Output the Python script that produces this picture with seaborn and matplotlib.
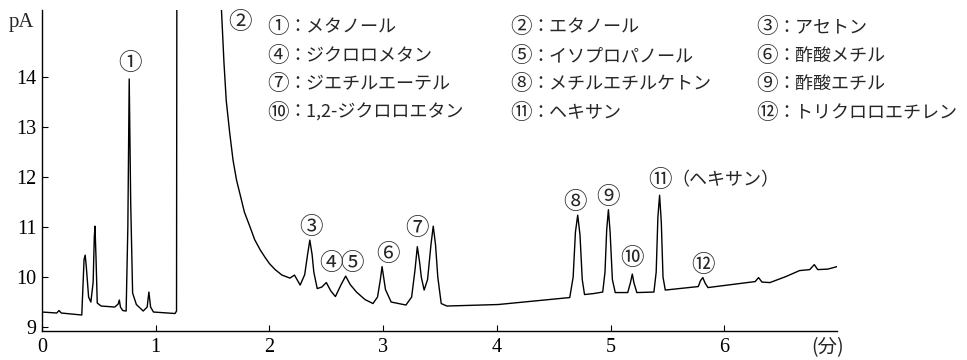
import matplotlib
matplotlib.use("Agg")
import matplotlib.pyplot as plt
import seaborn as sns
from matplotlib.ticker import MultipleLocator

# chromatogram trace (minutes, pA)
time_min = [
    0.00, 0.13, 0.15, 0.17, 0.35, 0.36, 0.37, 0.38, 0.39, 0.41, 0.43, 0.45,
    0.46, 0.466, 0.475, 0.486, 0.52, 0.64, 0.67, 0.68, 0.69, 0.71, 0.74,
    0.755, 0.767, 0.78, 0.797, 0.83, 0.89, 0.925, 0.94, 0.955, 0.98, 1.17,
    1.183, 1.19, 1.50, 1.575, 1.60, 1.62, 1.65, 1.68, 1.71, 1.74, 1.78, 1.83,
    1.87, 1.92, 1.96, 2.00, 2.05, 2.11, 2.18,
    2.22, 2.27, 2.31, 2.335, 2.355, 2.375, 2.39, 2.42, 2.46, 2.50, 2.54, 2.58,
    2.63, 2.67, 2.71, 2.765, 2.84, 2.91, 2.95, 2.975, 2.99, 3.005, 3.02, 3.07,
    3.20, 3.25, 3.28, 3.30, 3.32, 3.335, 3.36, 3.39, 3.42, 3.44, 3.46, 3.48,
    3.51, 3.56, 4.01, 4.64, 4.67, 4.69, 4.71, 4.73, 4.75, 4.77, 4.85, 4.93,
    4.95, 4.965, 4.98, 4.995, 5.015, 5.04, 5.15, 5.175, 5.19, 5.205, 5.23,
    5.38, 5.40, 5.415, 5.43, 5.445, 5.46, 5.48, 5.77, 5.79, 5.81, 5.83, 5.855,
    6.27, 6.30, 6.33, 6.40, 6.54, 6.66, 6.75, 6.79, 6.82, 6.91, 6.99,
]
signal_pa = [
    9.30, 9.28, 9.33, 9.28, 9.24, 9.80, 10.35, 10.44, 10.20, 9.60, 9.50, 9.90,
    10.80, 11.02, 10.40, 9.48, 9.42, 9.40, 9.46, 9.54, 9.40, 9.33, 9.32,
    11.0, 13.97, 11.5, 9.68, 9.45, 9.32, 9.40, 9.70, 9.40, 9.30, 9.27,
    9.32, 25.0, 25.0, 15.5, 14.3, 13.54, 12.9, 12.34, 11.95, 11.67, 11.3, 11.00,
    10.75, 10.54, 10.4, 10.27, 10.15, 10.04, 9.98,
    10.04, 9.84, 10.05, 10.45, 10.74, 10.45, 10.10, 9.77, 9.80, 9.89, 9.72, 9.61,
    9.85, 10.02, 9.85, 9.70, 9.55, 9.47, 9.60, 9.95, 10.21, 9.98, 9.75, 9.50,
    9.44, 9.60, 10.15, 10.61, 10.30, 10.00, 9.74, 9.95, 10.65, 11.02, 10.65, 10.00,
    9.47, 9.42, 9.45, 9.59, 10.00, 10.90, 11.24, 10.85, 9.95, 9.65, 9.67, 9.70,
    10.10, 10.95, 11.35, 10.90, 9.95, 9.69, 9.69, 9.90, 10.06, 9.88, 9.69,
    9.70, 10.10, 11.20, 11.64, 11.10, 10.00, 9.74, 9.81, 9.93, 9.99, 9.88, 9.79,
    9.91, 9.99, 9.90, 9.89, 10.01, 10.13, 10.15, 10.25, 10.15, 10.16, 10.21,
]

# peak labels
peak_marks = ["①", "②", "③", "④", "⑤", "⑥", "⑦", "⑧", "⑨", "⑩", "⑪", "⑫"]
peak_t = [0.773, 1.74, 2.364, 2.54, 2.73, 3.04, 3.30, 4.69, 4.98, 5.19, 5.43, 5.81]
peak_v = [14.28, 15.1, 11.0, 10.28, 10.28, 10.46, 10.98, 11.5, 11.6, 10.38, 11.94, 10.24]

compounds = [
    "メタノール", "エタノール", "アセトン",
    "ジクロロメタン", "イソプロパノール", "酢酸メチル",
    "ジエチルエーテル", "メチルエチルケトン", "酢酸エチル",
    "1,2-ジクロロエタン", "ヘキサン", "トリクロロエチレン",
]

sns.set_style("white")
plt.rcParams["font.family"] = ["Liberation Serif", "Noto Sans CJK JP"]

fig = plt.figure(figsize=(9.67, 3.6), dpi=100)
ax = fig.add_axes([0.0434, 0.0806, 0.8222, 0.8914])

sns.lineplot(x=time_min, y=signal_pa, ax=ax, color="black", linewidth=1.0,
             sort=False, estimator=None)

ax.set_xlim(0, 6.99)
ax.set_ylim(8.92, 15.35)
ax.xaxis.set_major_locator(MultipleLocator(1))
ax.xaxis.set_minor_locator(MultipleLocator(0.2))
ax.yaxis.set_minor_locator(MultipleLocator(0.5))
ax.set_yticks([9, 10, 11, 12, 13, 14])
ax.tick_params(which="major", direction="in", length=4, width=0.8,
               labelsize=14.5, colors="black", pad=4)
ax.tick_params(which="minor", direction="in", length=2, width=0.6)
ax.tick_params(axis="x", bottom=True, pad=5)
ax.tick_params(axis="y", left=True)
for side in ["top", "right"]:
    ax.spines[side].set_visible(False)
for side in ["left", "bottom"]:
    ax.spines[side].set_color("black")
    ax.spines[side].set_linewidth(1.0)

fig.text(9 / 967, 1 - 22 / 360, "pA", fontsize=15, va="center", ha="left")
fig.text(828 / 967, 1 - 348 / 360, "(分)", fontsize=14, va="center", ha="center",
         family=["Noto Sans CJK JP"])

for mark, t, v in zip(peak_marks, peak_t, peak_v):
    ax.text(t, v, mark, fontsize=17, ha="center", va="center",
            family=["Noto Sans CJK JP"])
ax.text(5.53, 11.94, "（ヘキサン）", fontsize=13, ha="left", va="center",
        family=["Noto Sans CJK JP"])

# compound legend, 3 columns x 4 rows (circle centre, then colon + name)
col_x = [278, 521, 767]
row_y = [27, 56, 84, 113]
for i, (mark, name) in enumerate(zip(peak_marks, compounds)):
    cx = col_x[i % 3]
    cy = 1 - row_y[i // 3] / 360
    fig.text(cx / 967, cy, mark, fontsize=15.5, ha="center", va="center",
             family=["Noto Sans CJK JP"])
    fig.text((cx + 10) / 967, cy, "：" + name, fontsize=13, ha="left",
             va="center", family=["Noto Sans CJK JP", "Liberation Serif"])

fig.savefig("out.png", dpi=100)
